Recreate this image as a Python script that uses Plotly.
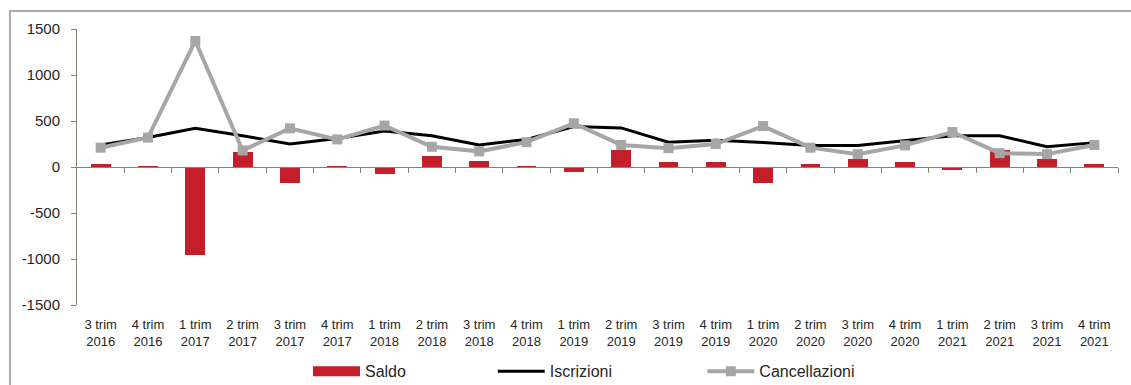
import plotly.graph_objects as go

categories = ["3 trim<br>2016", "4 trim<br>2016", "1 trim<br>2017", "2 trim<br>2017", "3 trim<br>2017",
              "4 trim<br>2017", "1 trim<br>2018", "2 trim<br>2018", "3 trim<br>2018", "4 trim<br>2018",
              "1 trim<br>2019", "2 trim<br>2019", "3 trim<br>2019", "4 trim<br>2019", "1 trim<br>2020",
              "2 trim<br>2020", "3 trim<br>2020", "4 trim<br>2020", "1 trim<br>2021", "2 trim<br>2021",
              "3 trim<br>2021", "4 trim<br>2021"]
saldo = [30, 10, -960, 160, -170, 10, -80, 120, 70, 10, -55, 190, 50, 50, -170, 30, 90, 50, -35, 180, 85, 30]
iscrizioni = [240, 320, 420, 340, 250, 310, 390, 340, 240, 300, 440, 425, 270, 290, 265, 235, 235, 285, 340, 340, 220, 265]
cancellazioni = [210, 320, 1370, 180, 420, 300, 450, 220, 170, 270, 475, 240, 205, 250, 445, 210, 140, 235, 380, 150, 140, 240]
y_ticks = [-1500, -1000, -500, 0, 500, 1000, 1500]
y_tick_labels = ["-1500", "-1000", "-500", "0", "500", "1000", "1500"]

xs = list(range(len(categories)))
boundaries = [i + 0.5 for i in xs]

RED = "#C41E2A"
GREY = "#A6A6A6"
AXIS = "#86866E"
TXT = "#262626"
FONT = "Liberation Sans, Arial, sans-serif"

fig = go.Figure()
fig.add_trace(go.Bar(x=xs, y=saldo, name="Saldo", marker=dict(color=RED, line=dict(width=0)),
                     width=0.42, showlegend=False, legendgroup="s"))
fig.add_trace(go.Scatter(x=xs, y=iscrizioni, name="Iscrizioni", mode="lines",
                         line=dict(color="#000000", width=3), legend="legend2"))
fig.add_trace(go.Scatter(x=xs, y=cancellazioni, name="Cancellazioni", mode="lines+markers",
                         line=dict(color=GREY, width=4), marker=dict(symbol="square", size=10, color=GREY),
                         legend="legend3"))
# legend entry for the bars (wide red rectangle like the original)
fig.add_trace(go.Scatter(x=[None], y=[None], name="Saldo", mode="lines",
                         line=dict(color=RED, width=10), legendgroup="s", legend="legend"))
# axis carrying the category boundary ticks at y = 0
fig.add_trace(go.Scatter(x=[xs[0]], y=[0], xaxis="x2", mode="markers", marker=dict(opacity=0),
                         showlegend=False, hoverinfo="skip"))

leg_common = dict(orientation="h", yanchor="middle", y=-0.24, xanchor="left",
                  font=dict(family=FONT, size=16, color=TXT), bgcolor="rgba(0,0,0,0)",
                  itemwidth=47, tracegroupgap=0)

fig.update_layout(
    width=1131, height=385,
    margin=dict(l=77, r=13, t=29, b=80, autoexpand=False),
    paper_bgcolor="white", plot_bgcolor="white",
    font=dict(family=FONT, color=TXT),
    bargap=0,
    xaxis=dict(range=[-0.5, 21.5], tickvals=xs, ticktext=categories, showline=False, ticks="",
               showgrid=False, zeroline=False, tickfont=dict(size=13, color=TXT), ticklabelstandoff=10),
    xaxis2=dict(range=[-0.5, 21.5], overlaying="x", anchor="free", position=0.5, side="bottom",
                tickvals=boundaries, showticklabels=False, ticks="outside", ticklen=5, tickwidth=1,
                tickcolor=AXIS, showline=True, linecolor=AXIS, linewidth=1, showgrid=False, zeroline=False),
    yaxis=dict(range=[-1500, 1500], tickvals=y_ticks, ticktext=y_tick_labels, showline=True,
               linecolor=AXIS, linewidth=1, ticks="outside", ticklen=5, tickcolor=AXIS,
               showgrid=False, zeroline=False, tickfont=dict(size=15, color=TXT), ticklabelstandoff=8),
    legend=dict(x=0.2219, **leg_common),
    legend2=dict(x=0.3994, **leg_common),
    legend3=dict(x=0.6007, **leg_common),
    shapes=[dict(type="rect", xref="paper", yref="paper", x0=-0.0644, x1=1.2, y0=-0.6, y1=1.0652,
                 line=dict(color="#ABABAB", width=2), fillcolor="rgba(0,0,0,0)", layer="below")],
)

fig.write_html("out.html")
